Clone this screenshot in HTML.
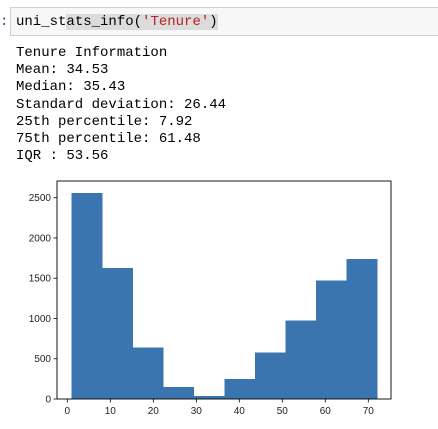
<!DOCTYPE html>
<html><head><meta charset="utf-8">
<style>
body{margin:0;width:438px;height:429px;background:#fff;overflow:hidden;position:relative;font-family:"Liberation Mono",monospace;}
.cell{position:absolute;left:10px;top:7px;width:440px;height:29px;border:1px solid #cfcfcf;background:#f7f7f7;box-sizing:border-box;}
.code{position:absolute;left:16px;top:12px;font-size:14px;line-height:20px;white-space:pre;color:#000;}
.hl{background:#dcdcdc;}
.str{color:#ba2121;}
.prompt{position:absolute;left:0;top:12px;font-size:14px;line-height:20px;color:#303f9f;}
.out{position:absolute;left:16px;top:45px;font-size:14px;line-height:17.2px;white-space:pre;color:#000;}
svg{position:absolute;left:0;top:0;}
</style></head><body>
<div class="prompt">:</div>
<div class="cell"></div>
<div class="code">uni_st<span class="hl">ats_info(<span class="str">'Tenure'</span>)</span></div>
<div class="out">Tenure Information
Mean: 34.53
Median: 35.43
Standard deviation: 26.44
25th percentile: 7.92
75th percentile: 61.48
IQR : 53.56</div>
<svg id="chart" width="438" height="429"></svg>
<script>
const binEdges=[1,8.1,15.2,22.3,29.4,36.5,43.6,50.7,57.8,64.9,72];
const counts=[2560,1630,640,150,40,250,580,975,1470,1740];
const xTicks=[0,10,20,30,40,50,60,70];
const yTicks=[0,500,1000,1500,2000,2500];
const L=57,R=391,T=181,B=399;
const x=v=>67.3+(v)*(301/70);
const y=v=>B-v*(201.3/2500);
const svg=document.getElementById('chart');
const NS='http://www.w3.org/2000/svg';
function mk(t,a){const e=document.createElementNS(NS,t);for(const k in a)e.setAttribute(k,a[k]);svg.appendChild(e);return e;}
counts.forEach((c,i)=>{
  const r=mk('rect',{x:x(binEdges[i]),y:y(c),width:x(binEdges[i+1])-x(binEdges[i])+0.5,height:B-y(c),fill:'#3b75af','shape-rendering':'crispEdges'});
  
  
});
const frame=mk('rect',{x:L,y:T,width:R-L,height:B-T,fill:'none',stroke:'#000','stroke-width':0.9});


xTicks.forEach(v=>{
  mk('line',{x1:x(v),x2:x(v),y1:B,y2:B+3.5,stroke:'#000','stroke-width':0.8});
  const t=mk('text',{x:x(v),y:B+15,'text-anchor':'middle','font-size':'10','font-family':'Liberation Sans, sans-serif',fill:'#222'});
  t.textContent=v;
  
  
});
yTicks.forEach(v=>{
  mk('line',{x1:L-3.5,x2:L,y1:y(v),y2:y(v),stroke:'#000','stroke-width':0.8});
  const t=mk('text',{x:L-6,y:y(v)+3.5,'text-anchor':'end','font-size':'10','font-family':'Liberation Sans, sans-serif',fill:'#222'});
  t.textContent=v;
  
  
});
</script>
</body></html>
